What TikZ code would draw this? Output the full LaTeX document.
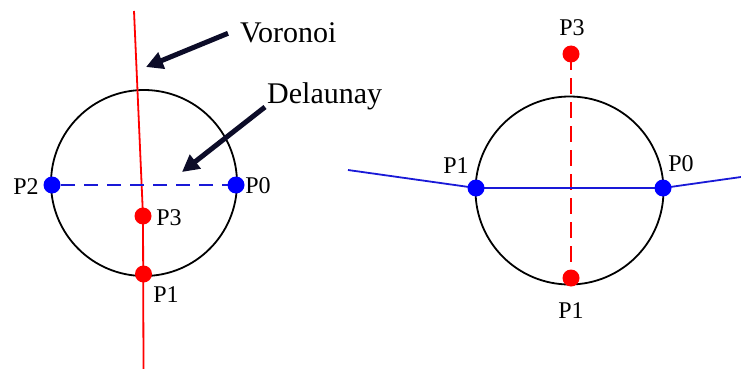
\documentclass[tikz,border=0pt]{standalone}
\usepackage{fontspec}
\setmainfont{Liberation Serif}
\usetikzlibrary{arrows.meta,backgrounds}
\definecolor{arrowink}{RGB}{12,12,40}
\definecolor{lineblue}{RGB}{25,25,215}
\begin{document}
\begin{tikzpicture}[x=1pt,y=-1pt,
  bdot/.style={circle,fill=blue,inner sep=0pt,minimum size=17pt},
  rdot/.style={circle,fill=red,inner sep=0pt,minimum size=17pt},
  ptlabel/.style={font=\fontsize{24}{24}\selectfont,inner sep=0pt},
  bigtag/.style={font=\fontsize{30}{30}\selectfont,inner sep=0pt},
  fatarrow/.style={arrowink,line width=5pt,-{Triangle[length=17pt,width=17pt]}},
  ring/.style={black,line width=1.8pt},
  redline/.style={red,line width=1.8pt},
  blueline/.style={lineblue,line width=1.8pt}]
\useasboundingbox (0,0) rectangle (741,369);
% left picture
\node[bdot] (lp2) at (52,185) {};
\node[bdot] (lp0) at (236,185) {};
\node[rdot] (lp3) at (143,216) {};
\node[rdot] (lp1) at (143.5,274) {};
\coordinate (vtop) at (134,11);
\coordinate (vbot) at (143.5,369);
\node[ptlabel] at (26,187) {P2};
\node[ptlabel] at (258,186) {P0};
\node[ptlabel] at (169,218) {P3};
\node[ptlabel] at (166,295) {P1};
\node[bigtag,anchor=base west] (vor) at (240,43) {Voronoi};
\node[bigtag,anchor=base west] (del) at (267,103) {Delaunay};
\coordinate (vortip) at (146,67);
\coordinate (deltip) at (182,172);
\draw[fatarrow] ([xshift=-12pt]vor.west) -- (vortip);
\draw[fatarrow] ([xshift=-2pt,yshift=-4pt]del.base west) -- (deltip);
% right picture
\node[bdot] (rp1) at (476,188) {};
\node[bdot] (rp0) at (663,188) {};
\node[rdot] (rp3) at (571,54) {};
\node[rdot] (rq1) at (571,278) {};
\coordinate (bleft) at (348,170);
\coordinate (bright) at (741,177);
\node[ptlabel] at (572,28) {P3};
\node[ptlabel] at (571,311) {P1};
\node[ptlabel] at (456,166) {P1};
\node[ptlabel] at (681,164) {P0};
\begin{scope}[on background layer]
\draw[ring] (144,183) circle (93);
\draw[ring] (569.5,190.5) circle (94);
\draw[redline] (vtop) -- (lp3.center) -- (vbot);
\draw[blueline,dash pattern=on 14pt off 9pt] (lp0.center) -- (lp2.center);
\draw[redline,dash pattern=on 16pt off 8pt] (rp3.center) -- (rq1.center);
\draw[blueline] (bleft) -- (rp1.center) -- (rp0.center) -- (bright);
\end{scope}
\end{tikzpicture}
\end{document}
